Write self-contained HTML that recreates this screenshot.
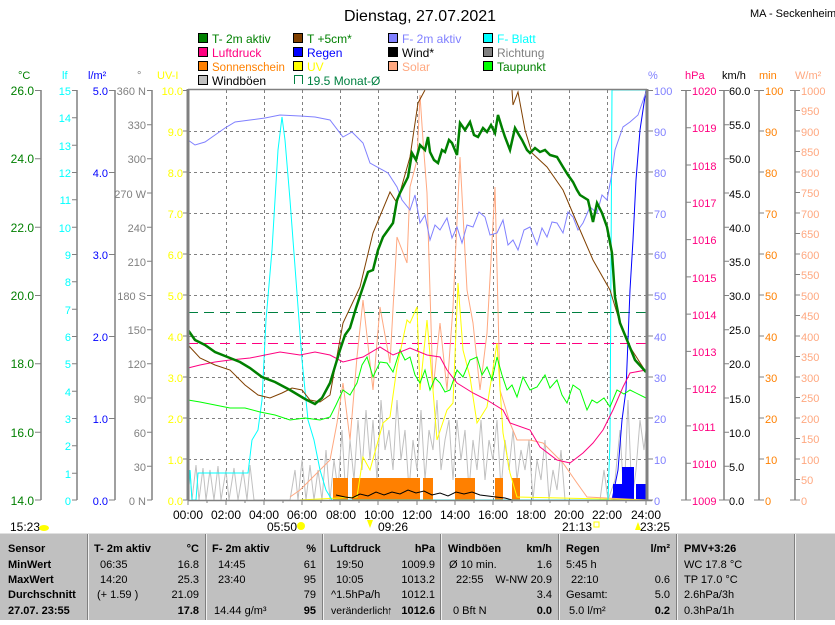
<!DOCTYPE html>
<html><head><meta charset="utf-8"><style>
body{margin:0;background:#fff;width:835px;height:620px;overflow:hidden;font-family:"Liberation Sans",sans-serif}
svg text{font-family:"Liberation Sans",sans-serif;font-size:11px}
</style></head><body>
<svg width="835" height="620" xmlns="http://www.w3.org/2000/svg">
<rect width="835" height="620" fill="#fff"/>
<text x="420" y="21" text-anchor="middle" style="font-size:16px">Dienstag, 27.07.2021</text>
<text x="750" y="17">MA - Seckenheim</text>
<g stroke="#000" stroke-width="1">
<rect x="198.5" y="33.5" width="9" height="9" fill="#008000"/>
<rect x="293.5" y="33.5" width="9" height="9" fill="#804000"/>
<rect x="388.5" y="33.5" width="9" height="9" fill="#8080ff"/>
<rect x="483.5" y="33.5" width="9" height="9" fill="#00ffff"/>
<rect x="198.5" y="47.5" width="9" height="9" fill="#ff0080"/>
<rect x="293.5" y="47.5" width="9" height="9" fill="#0000ff"/>
<rect x="388.5" y="47.5" width="9" height="9" fill="#000"/>
<rect x="483.5" y="47.5" width="9" height="9" fill="#808080"/>
<rect x="198.5" y="61.5" width="9" height="9" fill="#ff8000"/>
<rect x="293.5" y="61.5" width="9" height="9" fill="#ffff00"/>
<rect x="388.5" y="61.5" width="9" height="9" fill="#ffa880"/>
<rect x="483.5" y="61.5" width="9" height="9" fill="#00ff00"/>
<rect x="198.5" y="75.5" width="9" height="9" fill="#c0c0c0"/>
</g>
<path d="M294.5,84 V75.5 H302.5 V84" fill="none" stroke="#008040"/>
<g style="font-size:12px">
<text x="212" y="43" fill="#008000" style="font-size:12px">T- 2m aktiv</text>
<text x="307" y="43" fill="#008000" style="font-size:12px">T +5cm*</text>
<text x="402" y="43" fill="#8080ff" style="font-size:12px">F- 2m aktiv</text>
<text x="497" y="43" fill="#00ffff" style="font-size:12px">F- Blatt</text>
<text x="212" y="57" fill="#ff0080" style="font-size:12px">Luftdruck</text>
<text x="307" y="57" fill="#0000ff" style="font-size:12px">Regen</text>
<text x="402" y="57" fill="#000" style="font-size:12px">Wind*</text>
<text x="497" y="57" fill="#808080" style="font-size:12px">Richtung</text>
<text x="212" y="71" fill="#ff8000" style="font-size:11.5px">Sonnenschein</text>
<text x="307" y="71" fill="#ffff00" style="font-size:12px">UV</text>
<text x="402" y="71" fill="#ffa880" style="font-size:12px">Solar</text>
<text x="497" y="71" fill="#008000" style="font-size:12px">Taupunkt</text>
<text x="212" y="85" fill="#000" style="font-size:12px">Windböen</text>
<text x="307" y="85" fill="#008040" style="font-size:12px">19.5 Monat-Ø</text>
</g>
<text x="18" y="79" fill="#008000">°C</text>
<text x="62" y="79" fill="#00ffff">lf</text>
<text x="88" y="79" fill="#0000ff">l/m²</text>
<text x="137" y="79" fill="#808080">°</text>
<text x="157" y="79" fill="#ffff00">UV-I</text>
<text x="648" y="79" fill="#8080ff">%</text>
<text x="685" y="79" fill="#ff0080">hPa</text>
<text x="722" y="79" fill="#000">km/h</text>
<text x="759" y="79" fill="#ff8000">min</text>
<text x="795" y="79" fill="#ffa880">W/m²</text>
<g stroke="#808080" stroke-width="1.5" fill="none">
<path d="M41,90V500M77,90V500M115,90V500M152,90V500M686,90V500M724,90V500M759,90V500M795,90V500"/>
</g>
<g stroke="#808080" stroke-width="1">
<path d="M35,90.5h6M35,158.8h6M35,227.2h6M35,295.5h6M35,363.8h6M35,432.2h6M35,500h6"/>
<path d="M72,90.5h5M72,117.8h5M72,145.2h5M72,172.5h5M72,199.8h5M72,227.2h5M72,254.5h5M72,281.8h5M72,309.2h5M72,336.5h5M72,363.8h5M72,391.2h5M72,418.5h5M72,445.8h5M72,473.2h5M72,500h5"/>
<path d="M109,90.5h6M109,172.5h6M109,254.5h6M109,336.5h6M109,418.5h6M109,500h6"/>
<path d="M147,90.5h5M147,124.7h5M147,158.8h5M147,193h5M147,227.2h5M147,261.3h5M147,295.5h5M147,329.7h5M147,363.8h5M147,398h5M147,432.2h5M147,466.3h5M147,500h5"/>
<path d="M183,90.5h5M183,131h5M183,172h5M183,213h5M183,254h5M183,295h5M183,336h5M183,377h5M183,418h5M183,459h5M183,500h5"/>
<path d="M648,90.5h5M648,131h5M648,172h5M648,213h5M648,254h5M648,295h5M648,336h5M648,377h5M648,418h5M648,459h5M648,500h5"/>
<path d="M681,90.5h10M686,127.8h5M686,165h5M686,202.3h5M686,239.6h5M686,276.9h5M686,314.1h5M686,351.4h5M686,388.7h5M686,425.9h5M686,463.2h5M681,500h10"/>
<path d="M719,90.5h10M724,124.7h5M724,158.8h5M724,193h5M724,227.2h5M724,261.3h5M724,295.5h5M724,329.7h5M724,363.8h5M724,398h5M724,432.2h5M724,466.3h5M719,500h10"/>
<path d="M754,90.5h10M759,131h5M759,172h5M759,213h5M759,254h5M759,295h5M759,336h5M759,377h5M759,418h5M759,459h5M754,500h10"/>
<path d="M790,90.5h10M795,110.5h5M795,131h5M795,151.5h5M795,172h5M795,192.5h5M795,213h5M795,233.5h5M795,254h5M795,274.5h5M795,295h5M795,315.5h5M795,336h5M795,356.5h5M795,377h5M795,397.5h5M795,418h5M795,438.5h5M795,459h5M795,479.5h5M790,500h10"/>
</g>
<g fill="#008000" text-anchor="end" style="font-size:12px">
<text x="34" y="95" style="font-size:12px">26.0</text><text x="34" y="163" style="font-size:12px">24.0</text><text x="34" y="232" style="font-size:12px">22.0</text><text x="34" y="300" style="font-size:12px">20.0</text><text x="34" y="368" style="font-size:12px">18.0</text><text x="34" y="437" style="font-size:12px">16.0</text><text x="34" y="505" style="font-size:12px">14.0</text></g>
<g fill="#00ffff" text-anchor="end">
<text x="71" y="95">15</text><text x="71" y="122">14</text><text x="71" y="150">13</text><text x="71" y="177">12</text><text x="71" y="204">11</text><text x="71" y="232">10</text><text x="71" y="259">9</text><text x="71" y="286">8</text><text x="71" y="314">7</text><text x="71" y="341">6</text><text x="71" y="368">5</text><text x="71" y="396">4</text><text x="71" y="423">3</text><text x="71" y="450">2</text><text x="71" y="478">1</text><text x="71" y="505">0</text></g>
<g fill="#0000ff" text-anchor="end">
<text x="108" y="95">5.0</text><text x="108" y="177">4.0</text><text x="108" y="259">3.0</text><text x="108" y="341">2.0</text><text x="108" y="423">1.0</text><text x="108" y="505">0.0</text></g>
<g fill="#808080" text-anchor="end">
<text x="146" y="95">360 N</text><text x="146" y="129">330</text><text x="146" y="163">300</text><text x="146" y="198">270 W</text><text x="146" y="232">240</text><text x="146" y="266">210</text><text x="146" y="300">180 S</text><text x="146" y="334">150</text><text x="146" y="368">120</text><text x="146" y="403">90</text><text x="146" y="437">60</text><text x="146" y="471">30</text><text x="146" y="505">0 N</text></g>
<g fill="#ffff00" text-anchor="end">
<text x="183" y="95">10.0</text><text x="183" y="136">9.0</text><text x="183" y="177">8.0</text><text x="183" y="218">7.0</text><text x="183" y="259">6.0</text><text x="183" y="300">5.0</text><text x="183" y="341">4.0</text><text x="183" y="382">3.0</text><text x="183" y="423">2.0</text><text x="183" y="464">1.0</text><text x="183" y="505">0.0</text></g>
<g fill="#8080ff">
<text x="654" y="95">100</text><text x="654" y="136">90</text><text x="654" y="177">80</text><text x="654" y="218">70</text><text x="654" y="259">60</text><text x="654" y="300">50</text><text x="654" y="341">40</text><text x="654" y="382">30</text><text x="654" y="423">20</text><text x="654" y="464">10</text><text x="654" y="505">0</text></g>
<g fill="#ff0080">
<text x="692" y="95">1020</text><text x="692" y="132">1019</text><text x="692" y="170">1018</text><text x="692" y="207">1017</text><text x="692" y="244">1016</text><text x="692" y="282">1015</text><text x="692" y="319">1014</text><text x="692" y="356">1013</text><text x="692" y="393">1012</text><text x="692" y="431">1011</text><text x="692" y="468">1010</text><text x="692" y="505">1009</text></g>
<g fill="#000">
<text x="729" y="95">60.0</text><text x="729" y="129">55.0</text><text x="729" y="163">50.0</text><text x="729" y="198">45.0</text><text x="729" y="232">40.0</text><text x="729" y="266">35.0</text><text x="729" y="300">30.0</text><text x="729" y="334">25.0</text><text x="729" y="368">20.0</text><text x="729" y="403">15.0</text><text x="729" y="437">10.0</text><text x="729" y="471">5.0</text><text x="729" y="505">0.0</text></g>
<g fill="#ff8000">
<text x="765" y="95">100</text><text x="765" y="136">90</text><text x="765" y="177">80</text><text x="765" y="218">70</text><text x="765" y="259">60</text><text x="765" y="300">50</text><text x="765" y="341">40</text><text x="765" y="382">30</text><text x="765" y="423">20</text><text x="765" y="464">10</text><text x="765" y="505">0</text></g>
<g fill="#ffa880">
<text x="801" y="95">1000</text><text x="801" y="115">950</text><text x="801" y="136">900</text><text x="801" y="156">850</text><text x="801" y="177">800</text><text x="801" y="197">750</text><text x="801" y="218">700</text><text x="801" y="238">650</text><text x="801" y="259">600</text><text x="801" y="279">550</text><text x="801" y="300">500</text><text x="801" y="320">450</text><text x="801" y="341">400</text><text x="801" y="361">350</text><text x="801" y="382">300</text><text x="801" y="402">250</text><text x="801" y="423">200</text><text x="801" y="443">150</text><text x="801" y="464">100</text><text x="801" y="484">50</text><text x="801" y="505">0</text></g>
<g stroke="#808080" stroke-dasharray="3,3" stroke-width="1">
<path d="M226.5,90V500M264.5,90V500M302.5,90V500M340.5,90V500M378.5,90V500M417.5,90V500M455.5,90V500M493.5,90V500M531.5,90V500M569.5,90V500M607.5,90V500"/>
<path d="M188,131.5H646M188,172.5H646M188,213.5H646M188,254.5H646M188,295.5H646M188,336.5H646M188,377.5H646M188,418.5H646M188,459.5H646"/>
</g>
<path d="M188,312.5H646" stroke="#008040" stroke-dasharray="10,6"/>
<path d="M188,343.5H646" stroke="#ff0080" stroke-dasharray="10,6"/>
<polyline fill="none" stroke="#c0c0c0" points="188,500 190,470 192,500 196,465 199,500 203,468 206,500 210,470 214,500 218,466 221,500 226,470 229,500 234,468 238,500 243,470 247,500 250,465 254,500 258,500 290,500 295,470 298,500 302,460 306,500 310,465 314,500 318,470 322,500 326,450 330,500 334,460 338,490 342,430 346,500 350,440 354,480 358,420 362,470 366,410 370,460 373,420 377,480 381,400 385,450 389,430 393,470 397,400 401,460 405,430 409,490 413,440 417,470 421,410 425,480 429,430 433,450 437,400 441,470 445,440 449,420 453,480 457,420 461,460 465,430 469,490 473,440 477,470 481,420 485,480 489,440 493,460 497,420 501,490 505,440 509,470 513,430 517,480 521,450 525,470 529,440 533,500 537,460 541,480 545,440 549,500 553,470 557,490 561,450 565,500 600,500 604,470 608,500 615,480 620,430 624,500 628,400 632,500 636,470 640,420 644,450 646,430"/>
<g fill="#ff8000">
<rect x="333" y="478" width="15" height="22"/><rect x="352" y="478" width="68" height="22"/><rect x="423" y="478" width="10" height="22"/><rect x="455" y="478" width="20" height="22"/><rect x="495" y="478" width="8" height="22"/><rect x="512" y="478" width="8" height="22"/>
</g>
<g fill="#0000ff"><rect x="613" y="484" width="20" height="16"/><rect x="622" y="467" width="12" height="33"/><rect x="636" y="484" width="10" height="16"/></g>
<polyline fill="none" stroke="#0000ff" points="612,500 618,470 622,420 626,390 628,340 630,290 633,240 636,180 640,130 643,110 646,90"/>
<polyline fill="none" stroke="#ffa880" points="290,497 300,490 310,480 320,470 330,460 337,423 343,383 350,440 357,357 363,300 373,390 380,307 390,363 397,237 407,263 410,187 417,160 420,95 423,140 427,193 433,390 440,323 447,390 453,307 460,157 467,290 473,323 480,390 487,333 495,187 500,390 510,423 517,440 530,440 543,443 563,463 577,483 587,497 646,500"/>
<polyline fill="none" stroke="#ffff00" points="300,500 357,497 363,457 370,470 383,423 390,417 397,367 407,320 410,323 417,307 420,390 427,320 433,390 437,440 447,410 453,403 458,283 463,350 470,377 477,423 487,407 497,343 503,433 510,473 517,497 646,500"/>
<polyline fill="none" stroke="#00ffff" points="188,500 190,470 192,500 196,500 198,473 248,473 252,440 258,430 262,400 266,320 272,250 278,150 282,117 285,140 290,200 296,280 302,360 308,420 314,440 320,470 326,490 332,500 608,500 610,440 612,90 646,90"/>
<polyline fill="none" stroke="#00ff00" points="188,400 200,402 215,405 230,408 245,408 260,412 275,415 290,420 305,418 320,420 330,417 336,405 343,390 350,395 357,383 362,365 367,357 373,377 380,362 387,363 393,372 400,350 405,360 410,357 415,375 420,383 425,370 430,390 435,378 440,383 445,392 450,390 457,370 463,377 470,360 477,357 482,375 487,367 492,380 497,357 502,375 507,390 512,385 517,397 523,377 530,390 537,387 545,375 550,388 557,380 562,395 567,403 573,385 580,390 587,410 592,400 597,403 604,398 610,407 617,390 624,394 630,390 646,398"/>
<polyline fill="none" stroke="#ff0080" points="188,368 200,365 215,362 230,360 250,358 265,355 280,352 300,355 315,352 330,355 343,362 363,357 380,347 393,355 410,348 427,355 440,357 447,370 457,383 473,393 487,400 503,410 510,423 530,430 540,447 557,460 570,463 583,453 593,443 603,430 613,410 623,387 630,373 646,370"/>
<polyline fill="none" stroke="#8080ff" points="188,140 195,145 205,142 215,135 225,128 235,122 250,120 265,118 280,115 300,116 315,117 330,120 343,137 352,132 363,143 370,163 388,173 397,187 402,200 410,210 415,195 420,223 425,215 430,240 435,225 440,230 447,218 452,238 457,227 462,243 467,225 473,227 479,212 485,217 490,235 497,233 503,220 508,245 513,240 518,250 524,230 530,227 537,245 542,228 547,237 552,222 557,223 563,233 568,212 573,217 578,230 583,223 590,207 597,213 602,195 607,200 612,173 615,150 623,127 630,122 638,115 646,92"/>
<polyline fill="none" stroke="#804000" points="188,345 200,358 215,365 230,370 245,385 258,395 270,398 282,393 292,388 302,390 310,400 320,402 330,395 343,323 360,287 373,233 390,192 397,203 410,157 418,103 425,90"/>
<polyline fill="none" stroke="#804000" points="512,90 513,105 518,92 525,130 532,153 547,167 563,190 577,223 593,260 610,290 620,323 630,347 646,372"/>
<polyline fill="none" stroke="#008000" stroke-width="2.5" points="188,330 195,340 205,345 215,352 225,356 240,362 250,368 262,377 275,382 290,390 305,399 315,404 322,398 330,383 340,350 345,335 350,328 356,308 363,287 368,272 373,270 378,250 383,237 388,230 393,223 397,200 400,193 404,185 408,177 412,153 416,160 420,145 425,150 428,137 430,152 434,160 438,163 442,150 445,152 449,140 452,143 457,155 460,123 465,130 470,122 474,135 478,137 483,128 487,132 491,125 495,133 498,115 502,128 505,137 510,150 515,128 519,135 522,140 527,150 530,153 535,148 540,152 545,150 550,155 557,157 563,167 568,175 573,182 577,190 580,195 588,200 593,222 597,203 602,213 607,227 612,253 615,297 620,323 627,340 635,360 646,372"/>
<polyline fill="none" stroke="#000" points="336,495 345,497 352,498 360,494 368,496 376,492 384,495 392,492 400,494 408,490 416,493 424,491 432,495 440,493 448,496 456,492 464,494 472,492 480,495 488,496 496,497 505,498 512,500"/>
<path d="M188,89V500M647,89V500" stroke="#808080" stroke-width="3"/>
<path d="M188,89.5H647M188,500.5H652" stroke="#808080" stroke-width="1.5"/>
<g stroke="#808080"><path d="M188,500v5M207,500v3M226,500v5M245,500v3M264,500v5M283,500v3M302,500v5M321,500v3M340,500v5M359,500v3M378,500v5M398,500v3M417,500v5M436,500v3M455,500v5M474,500v3M493,500v5M512,500v3M531,500v5M550,500v3M569,500v5M588,500v3M607,500v5M626,500v3M646,500v5"/></g>
<g text-anchor="middle">
<text x="188" y="519" style="font-size:12px">00:00</text><text x="226" y="519" style="font-size:12px">02:00</text><text x="264" y="519" style="font-size:12px">04:00</text><text x="302" y="519" style="font-size:12px">06:00</text><text x="341" y="519" style="font-size:12px">08:00</text><text x="379" y="519" style="font-size:12px">10:00</text><text x="417" y="519" style="font-size:12px">12:00</text><text x="455" y="519" style="font-size:12px">14:00</text><text x="493" y="519" style="font-size:12px">16:00</text><text x="531" y="519" style="font-size:12px">18:00</text><text x="569" y="519" style="font-size:12px">20:00</text><text x="607" y="519" style="font-size:12px">22:00</text><text x="646" y="519" style="font-size:12px">24:00</text></g>
<text x="10" y="531" style="font-size:12px">15:23</text><ellipse cx="44" cy="528" rx="5" ry="3" fill="#ffff00"/>
<text x="267" y="531" style="font-size:12px">05:50</text><circle cx="301" cy="526" r="4" fill="#ffff00"/>
<text x="378" y="531" style="font-size:12px">09:26</text><path d="M367,520l3,8l3,-8z" fill="#ffff00"/>
<text x="562" y="531" style="font-size:12px">21:13</text><rect x="594" y="522" width="5" height="5" fill="none" stroke="#ffff00"/>
<text x="640" y="531" style="font-size:12px">23:25</text><path d="M635,530l3,-8l3,8z" fill="#ffff00"/>
<rect x="0" y="533" width="835" height="87" fill="#c0c0c0"/>
<path d="M0,533.5H835" stroke="#e0e0e0"/>
<g stroke="#f0f0f0" stroke-width="1"><path d="M88.5,534V620M206.5,534V620M323.5,534V620M441.5,534V620M559.5,534V620M677.5,534V620M795.5,534V620"/></g>
<g stroke="#808080" stroke-width="1"><path d="M87.5,534V620M205.5,534V620M322.5,534V620M440.5,534V620M558.5,534V620M676.5,534V620M794.5,534V620"/></g>
<g>
<text x="8" y="552" font-weight="bold">Sensor</text><text x="8" y="568" font-weight="bold">MinWert</text><text x="8" y="583" font-weight="bold">MaxWert</text><text x="8" y="598" font-weight="bold">Durchschnitt</text><text x="8" y="614" font-weight="bold">27.07. 23:55</text>
<text x="94" y="552" font-weight="bold">T- 2m aktiv</text><text x="199" y="552" text-anchor="end" font-weight="bold">°C</text>
<text x="212" y="552" font-weight="bold">F- 2m aktiv</text><text x="316" y="552" text-anchor="end" font-weight="bold">%</text>
<text x="330" y="552" font-weight="bold">Luftdruck</text><text x="435" y="552" text-anchor="end" font-weight="bold">hPa</text>
<text x="448" y="552" font-weight="bold">Windböen</text><text x="552" y="552" text-anchor="end" font-weight="bold">km/h</text>
<text x="566" y="552" font-weight="bold">Regen</text><text x="670" y="552" text-anchor="end" font-weight="bold">l/m²</text>
<text x="684" y="552" font-weight="bold">PMV+3:26</text>
<text x="199" y="614" text-anchor="end" font-weight="bold">17.8</text><text x="316" y="614" text-anchor="end" font-weight="bold">95</text><text x="435" y="614" text-anchor="end" font-weight="bold">1012.6</text><text x="552" y="614" text-anchor="end" font-weight="bold">0.0</text><text x="670" y="614" text-anchor="end" font-weight="bold">0.2</text>
</g>
<g>
<text x="100" y="568">06:35</text><text x="199" y="568" text-anchor="end">16.8</text>
<text x="100" y="583">14:20</text><text x="199" y="583" text-anchor="end">25.3</text>
<text x="97" y="598">(+ 1.59 )</text><text x="199" y="598" text-anchor="end">21.09</text>
<text x="218" y="568">14:45</text><text x="316" y="568" text-anchor="end">61</text>
<text x="218" y="583">23:40</text><text x="316" y="583" text-anchor="end">95</text>
<text x="316" y="598" text-anchor="end">79</text>
<text x="214" y="614">14.44 g/m³</text>
<text x="336" y="568">19:50</text><text x="435" y="568" text-anchor="end">1009.9</text>
<text x="336" y="583">10:05</text><text x="435" y="583" text-anchor="end">1013.2</text>
<text x="331" y="598">^1.5hPa/h</text><text x="435" y="598" text-anchor="end">1012.1</text>
<text x="331" y="614" style="font-size:10.5px">veränderlich</text><text x="387" y="614" fill="#000" font-weight="bold">↑</text>
<text x="449" y="568">Ø 10 min.</text><text x="552" y="568" text-anchor="end">1.6</text>
<text x="456" y="583">22:55</text><text x="552" y="583" text-anchor="end">W-NW 20.9</text>
<text x="552" y="598" text-anchor="end">3.4</text>
<text x="453" y="614">0 Bft N</text>
<text x="566" y="568">5:45 h</text>
<text x="571" y="583">22:10</text><text x="670" y="583" text-anchor="end">0.6</text>
<text x="566" y="598">Gesamt:</text><text x="670" y="598" text-anchor="end">5.0</text>
<text x="569" y="614">5.0 l/m²</text>
<text x="684" y="568">WC 17.8 °C</text><text x="684" y="583">TP 17.0 °C</text><text x="684" y="598">2.6hPa/3h</text><text x="684" y="614">0.3hPa/1h</text>
</g>
</svg>
</body></html>
